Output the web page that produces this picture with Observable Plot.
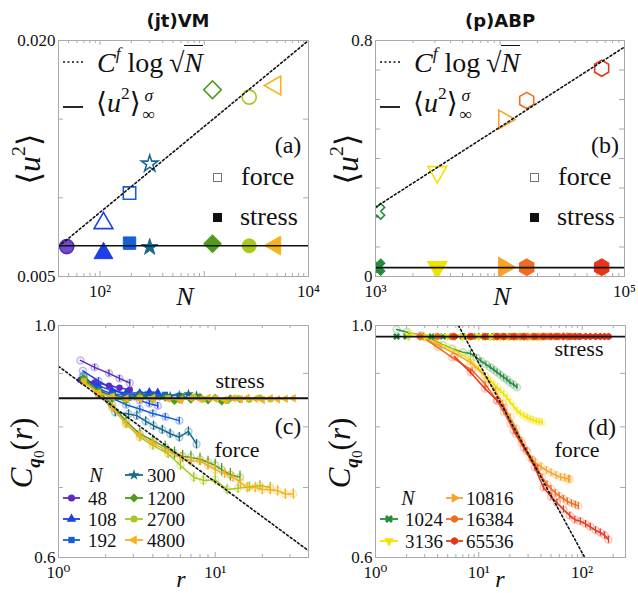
<!DOCTYPE html>
<html><head><meta charset="utf-8">
<script src="https://cdn.jsdelivr.net/npm/d3@7"></script>
<script src="https://cdn.jsdelivr.net/npm/@observablehq/plot@0.6"></script>
<style>
body{margin:0;background:#fff;}
#fig{position:relative;width:638px;height:593px;overflow:hidden;font-family:"Liberation Serif","DejaVu Serif",serif;color:#111;}
.abs{position:absolute;white-space:nowrap;line-height:1;}
#fig svg text{font-family:"Liberation Serif","DejaVu Serif",serif;}
</style></head><body><div id="fig"></div>
<script>
// ---------------- DATA ----------------
// panel (a): (jt)VM
const aN      = [48, 108, 192, 300, 1200, 2700, 4800];
const aForce  = [0.0069, 0.00839, 0.0103, 0.01216, 0.01687, 0.0164, 0.01714];
const aStress = [0.0069, 0.00648, 0.00712, 0.00686, 0.00708, 0.00695, 0.00697];
const aColors = ["#5a2dbf", "#1f3fe6", "#175fd6", "#17698f", "#4f9a1f", "#a9c81e", "#f7b21a"];
const aSymbols = ["circle", "triangle", "square", "star", "square", "circle", "triangle"];
const aRotate  = [0, 0, 0, 0, 45, 0, -90];
const aSize    = [7, 7, 7, 5.2, 7, 7, 7];
const aSigmaLine = [0.00695];
const aFitN = [40, 10000];
const aFitU = [0.0069, 0.0200];
const aXTicks = [100, 10000], aXTickLabels = ["10²", "10⁴"];
const aYTicks = [0.005, 0.02], aYTickLabels = ["0.005", "0.020"];

// panel (b): (p)ABP
const bN      = [1024, 3136, 10816, 16384, 65536];
const bForce  = [0.221, 0.354, 0.532, 0.597, 0.706];
const bStress = [0.0316, 0.0316, 0.0316, 0.0316, 0.0316];
const bColors = ["#238b3b", "#f2e200", "#f8a327", "#ee6d1f", "#e8351a"];
const bSymbols = ["cross", "triangle", "triangle", "hexagon", "hexagon"];
const bRotate  = [45, 180, 90, 0, 0];
const bSigmaLine = [0.03];
const bFitN = [1000, 100000];
const bFitU = [0.235, 0.778];
const bXTicks = [1000, 100000], bXTickLabels = ["10³", "10⁵"];
const bYTicks = [0, 0.8], bYTickLabels = ["0", "0.8"];

// panel (c): (jt)VM correlations, r / force C / stress C per N
const c48r  = [1.38, 1.7, 2.1, 2.45, 2.85];
const c48f  = [0.926, 0.912, 0.900, 0.890, 0.881];
const c48s  = [0.887, 0.882, 0.876, 0.872, 0.868];
const c108r = [1.43, 1.8, 2.2, 2.7, 3.3, 3.8, 4.3];
const c108f = [0.905, 0.885, 0.870, 0.857, 0.848, 0.842, 0.838];
const c108s = [0.888, 0.876, 0.866, 0.862, 0.862, 0.864, 0.863];
const c192r = [1.43, 1.8, 2.2, 2.7, 3.3, 4.0, 4.8, 5.9];
const c192f = [0.895, 0.870, 0.852, 0.840, 0.832, 0.824, 0.818, 0.811];
const c192s = [0.888, 0.870, 0.860, 0.858, 0.860, 0.858, 0.859, 0.857];
const c300r = [1.45, 1.8, 2.3, 2.8, 3.16, 3.6, 4.04, 4.6, 5.16, 5.9, 6.75, 7.6];
const c300f = [0.895, 0.862, 0.826, 0.823, 0.820, 0.810, 0.802, 0.795, 0.788, 0.782, 0.792, 0.770];
const c300s = [0.885, 0.865, 0.856, 0.854, 0.855, 0.857, 0.856, 0.855, 0.856, 0.858, 0.860, 0.857];
const c1200r = [1.45, 1.8, 2.2, 2.7, 3.3, 4.0, 4.8, 5.5, 6.2, 7.0, 8.0, 9.0, 10, 11, 12.5, 14.4];
const c1200f = [0.892, 0.865, 0.840, 0.810, 0.788, 0.776, 0.765, 0.755, 0.750, 0.748, 0.745, 0.740, 0.735, 0.728, 0.720, 0.716];
const c1200s = [0.890, 0.865, 0.852, 0.848, 0.856, 0.850, 0.853, 0.847, 0.854, 0.849, 0.855, 0.848, 0.853, 0.846, 0.852, 0.850];
const c2700r = [1.45, 1.8, 2.2, 2.7, 3.3, 4.0, 5.0, 6.0, 7.3, 8.4, 10, 11.9, 14, 16.5, 19.3, 22.5];
const c2700f = [0.888, 0.860, 0.835, 0.805, 0.782, 0.768, 0.754, 0.735, 0.716, 0.711, 0.712, 0.697, 0.699, 0.701, 0.703, 0.700];
const c2700s = [0.885, 0.862, 0.855, 0.850, 0.853, 0.849, 0.852, 0.848, 0.855, 0.850, 0.853, 0.847, 0.852, 0.849, 0.853, 0.850];
const c4800r = [1.45, 1.8, 2.2, 2.7, 3.3, 4.0, 5.0, 6.0, 7.0, 8.0, 9.0, 10, 11.5, 13, 14.5, 16, 18, 20, 22.5, 25, 28, 31.5];
const c4800f = [0.885, 0.860, 0.835, 0.805, 0.785, 0.772, 0.758, 0.748, 0.742, 0.742, 0.735, 0.728, 0.722, 0.716, 0.708, 0.700, 0.700, 0.697, 0.697, 0.695, 0.690, 0.690];
const c4800s = [0.882, 0.862, 0.855, 0.852, 0.850, 0.853, 0.851, 0.849, 0.852, 0.850, 0.853, 0.851, 0.849, 0.852, 0.850, 0.853, 0.851, 0.849, 0.852, 0.850, 0.851, 0.852];
const cErr = [0.006, 0.006, 0.006, 0.008, 0.010, 0.008, 0.008];
const cSigmaLine = [0.852];
const cFitR = [1, 39.4], cFitC = [0.914, 0.609];
const cXTicks = [1, 10], cXTickLabels = ["10⁰", "10¹"];
const cYTicks = [0.6, 1.0], cYTickLabels = ["0.6", "1.0"];

// panel (d): (p)ABP correlations
const d1024r = [1.6, 2.0, 2.8, 3.5, 4.5, 5.5, 7, 8.3, 9.5, 10.5, 11.7, 12.9, 14, 15, 16.2, 17.4, 18.7, 20, 21.7, 23.4];
const d1024f = [0.991, 0.986, 0.978, 0.970, 0.958, 0.950, 0.943, 0.940, 0.932, 0.925, 0.918, 0.912, 0.907, 0.902, 0.897, 0.892, 0.888, 0.882, 0.878, 0.873];
const d3136r = [2.1, 3, 4, 5, 5.9, 7, 8.3, 10, 11.5, 12.9, 14, 15, 16.2, 17.4, 18.7, 20, 21.7, 23.4, 25.2, 27.2, 29.2, 31.3, 33.6, 36, 38.4, 40.8];
const d3136f = [0.985, 0.975, 0.962, 0.953, 0.946, 0.937, 0.927, 0.910, 0.895, 0.886, 0.879, 0.872, 0.866, 0.860, 0.853, 0.845, 0.837, 0.829, 0.824, 0.820, 0.817, 0.814, 0.812, 0.810, 0.809, 0.808];
const d10816r = [2.8, 4, 5.9, 8.3, 11.5, 14.5, 17, 20.2, 23, 26, 29, 31.3, 35, 40, 45, 50, 56, 62, 68, 74, 76];
const d10816f = [0.975, 0.958, 0.940, 0.922, 0.895, 0.866, 0.842, 0.817, 0.797, 0.776, 0.758, 0.747, 0.740, 0.733, 0.727, 0.723, 0.719, 0.716, 0.715, 0.713, 0.713];
const d16384r = [2.7, 4, 5.5, 8.6, 11.5, 15, 17.5, 20.2, 23, 26, 29.2, 33, 37, 41, 45.7, 50, 55, 60, 66, 72, 79, 86, 92];
const d16384f = [0.978, 0.953, 0.932, 0.906, 0.879, 0.848, 0.826, 0.805, 0.787, 0.772, 0.759, 0.744, 0.730, 0.716, 0.705, 0.698, 0.692, 0.687, 0.683, 0.679, 0.676, 0.674, 0.672];
const d65536r = [5.8, 8.3, 11.5, 15, 17.4, 21.8, 27.2, 34.8, 42.3, 50, 57, 66, 76, 85, 96, 108, 120, 135, 150, 165, 180];
const d65536f = [0.934, 0.902, 0.870, 0.848, 0.835, 0.793, 0.764, 0.732, 0.700, 0.686, 0.677, 0.667, 0.658, 0.652, 0.650, 0.646, 0.642, 0.637, 0.634, 0.630, 0.624];
const dStress = [0.976, 0.976, 0.976, 0.976, 0.976];
const dErr = [0.005, 0.005, 0.006, 0.005, 0.005];
const dSigmaLine = [0.976];
const dFitR = [6.35, 106], dFitC = [1.0, 0.6];
const dXTicks = [1, 10, 100], dXTickLabels = ["10⁰", "10¹", "10²"];
const dYTicks = [0.6, 1.0], dYTickLabels = ["0.6", "1.0"];

// ---------------- HELPERS ----------------
const fig = document.getElementById("fig");
const SERIF = '"Liberation Serif","DejaVu Serif",serif';
const GREY = "#aaaaaa";
const rows = (xs, ys) => xs.map((x, i) => ({x, y: ys[i]}));

function tickMarks(xMaj, xMin, yMaj, yMin, fw, fh) {
  const out = [];
  for (const [t, len] of [[xMaj, 5], [xMin, 3]]) {
    if (!t.length) continue;
    out.push(Plot.ruleX(t, {x: d => d, insetTop: fh - len, stroke: GREY}));
    out.push(Plot.ruleX(t, {x: d => d, insetBottom: fh - len, stroke: GREY}));
  }
  for (const [t, len] of [[yMaj, 5], [yMin, 3]]) {
    if (!t.length) continue;
    out.push(Plot.ruleY(t, {y: d => d, insetRight: fw - len, stroke: GREY}));
    out.push(Plot.ruleY(t, {y: d => d, insetLeft: fw - len, stroke: GREY}));
  }
  return out;
}
function tickLabels(xv, xl, yv, yl) {
  const mx = new Map(xv.map((v, i) => [v, xl[i]]));
  const my = new Map(yv.map((v, i) => [v, yl[i]]));
  return [
    Plot.axisX({ticks: xv, tickFormat: d => mx.get(d), tickSize: 0, tickPadding: 8, label: null, fontSize: 17, fontFamily: SERIF}),
    Plot.axisY({ticks: yv, tickFormat: d => my.get(d), tickSize: 0, tickPadding: 3, label: null, fontSize: 17, fontFamily: SERIF})
  ];
}
function panel({left, top, width, height, mL, mR, mT, mB, x, y, marks}) {
  const p = Plot.plot({
    width, height, marginLeft: mL, marginRight: mR, marginTop: mT, marginBottom: mB,
    x, y,
    style: {fontFamily: SERIF, fontSize: "17px", background: "transparent", overflow: "visible", color: "#111"},
    marks: [...marks, Plot.frame({stroke: GREY})]
  });
  p.style.position = "absolute";
  p.style.left = left + "px";
  p.style.top = top + "px";
  fig.append(p);
}
function txt(html, x, y, {size = 22, anchor = "middle", rotate = 0, weight = "normal", family = SERIF} = {}) {
  const d = document.createElement("div");
  d.className = "abs";
  d.innerHTML = html;
  d.style.left = x + "px"; d.style.top = y + "px";
  d.style.fontSize = size + "px"; d.style.fontFamily = family; d.style.fontWeight = weight;
  const tx = anchor === "middle" ? "-50%" : anchor === "start" ? "0" : "-100%";
  d.style.transform = `translate(${tx},-50%)` + (rotate ? ` rotate(${rotate}deg)` : "");
  fig.append(d);
}
function svgAt(x, y, w, h, inner) {
  const ns = "http://www.w3.org/2000/svg";
  const s = document.createElementNS(ns, "svg");
  s.setAttribute("width", w); s.setAttribute("height", h);
  s.style.position = "absolute"; s.style.left = x + "px"; s.style.top = y + "px"; s.style.overflow = "visible";
  s.innerHTML = inner;
  fig.append(s);
}
const symHex = {draw(ctx, size) {
  const r = Math.sqrt(size * 2 / (3 * Math.sqrt(3)));
  for (let i = 0; i < 6; i++) {
    const a = Math.PI / 3 * i - Math.PI / 2;
    i ? ctx.lineTo(r * Math.cos(a), r * Math.sin(a)) : ctx.moveTo(r * Math.cos(a), r * Math.sin(a));
  }
  ctx.closePath();
}};
const SYM = {circle: d3.symbolCircle, triangle: d3.symbolTriangle, square: d3.symbolSquare, star: d3.symbolStar, cross: d3.symbolCross, hexagon: symHex};
function legendEntry(x0, x1, y, color, sym, rot, textX, label) {
  const w = x1 - x0, path = d3.symbol(SYM[sym], 40)();
  svgAt(x0, y - 6, w, 12,
    `<line x1="0" x2="${w}" y1="6" y2="6" stroke="${color}" stroke-width="1.8"/>` +
    `<path d="${path}" transform="translate(${w / 2},6) rotate(${rot})" fill="${color}"/>`);
  txt(label, textX, y, {size: 19, anchor: "start"});
}

// ---------------- PANEL (a) ----------------
{
  const fw = 250, fh = 236;
  const marks = [
    ...tickMarks([100, 1000, 10000], [50, 60, 70, 80, 90, 200, 300, 400, 500, 600, 700, 800, 900, 2000, 3000, 4000, 5000, 6000, 7000, 8000, 9000],
                 [0.005, 0.01, 0.015, 0.02], [], fw, fh),
    ...tickLabels(aXTicks, aXTickLabels, aYTicks, aYTickLabels)
  ];
  aN.forEach((n, i) => {
    marks.push(Plot.dot([{x: n, y: aForce[i]}], {x: "x", y: "y", symbol: aSymbols[i], rotate: aRotate[i], r: aSize[i], stroke: aColors[i], strokeWidth: 1.6, fill: "none"}));
    marks.push(Plot.dot([{x: n, y: aStress[i]}], {x: "x", y: "y", symbol: aSymbols[i], rotate: aRotate[i], r: aSize[i], fill: aColors[i], stroke: aColors[i], strokeWidth: 1, fillOpacity: i === 0 ? 0.85 : 1}));
  });
  marks.push(Plot.ruleY(aSigmaLine, {y: d => d, stroke: "#111", strokeWidth: 1.6}));
  marks.push(Plot.line(rows(aFitN, aFitU), {x: "x", y: "y", stroke: "#111", strokeWidth: 1.6, strokeDasharray: "2,2.5", clip: true}));
  panel({left: 0, top: 0, width: 320, height: 300, mL: 58, mR: 12, mT: 40, mB: 24,
    x: {type: "log", domain: [40, 10000], axis: null}, y: {domain: [0.005, 0.02], axis: null}, marks});
}
// ---------------- PANEL (b) ----------------
{
  const fw = 249, fh = 236;
  const xmin = [];
  for (const dec of [1000, 10000]) for (let k = 2; k <= 9; k++) xmin.push(k * dec);
  const marks = [
    ...tickMarks([1000, 10000, 100000], xmin, [0, 0.1, 0.2, 0.3, 0.4, 0.5, 0.6, 0.7, 0.8], [], fw, fh),
    ...tickLabels(bXTicks, bXTickLabels, bYTicks, bYTickLabels)
  ];
  bN.forEach((n, i) => {
    marks.push(Plot.dot([{x: n, y: bForce[i]}], {x: "x", y: "y", symbol: bSymbols[i], rotate: bRotate[i], r: 7, stroke: bColors[i], strokeWidth: 1.6, fill: "none", clip: true}));
    marks.push(Plot.dot([{x: n, y: bStress[i]}], {x: "x", y: "y", symbol: bSymbols[i], rotate: bRotate[i], r: 7, fill: bColors[i], stroke: bColors[i], clip: true}));
  });
  marks.push(Plot.ruleY(bSigmaLine, {y: d => d, stroke: "#111", strokeWidth: 1.6}));
  marks.push(Plot.line(rows(bFitN, bFitU), {x: "x", y: "y", stroke: "#111", strokeWidth: 1.6, strokeDasharray: "2,2.5", clip: true}));
  panel({left: 318, top: 0, width: 320, height: 300, mL: 57, mR: 14, mT: 40, mB: 24,
    x: {type: "log", domain: [1000, 100000], axis: null}, y: {domain: [0, 0.8], axis: null}, marks});
}
// ---------------- PANEL (c) ----------------
const cSeries = [
  [c48r, c48f, c48s], [c108r, c108f, c108s], [c192r, c192f, c192s], [c300r, c300f, c300s],
  [c1200r, c1200f, c1200s], [c2700r, c2700f, c2700s], [c4800r, c4800f, c4800s]
];
{
  const fw = 250, fh = 232;
  const marks = [
    ...tickMarks([1, 10], [2, 3, 4, 5, 6, 7, 8, 9, 20, 30], [0.6, 0.7, 0.8, 0.9, 1.0], [], fw, fh),
    ...tickLabels(cXTicks, cXTickLabels, cYTicks, cYTickLabels)
  ];
  cSeries.forEach(([r, f, s], i) => {
    const col = aColors[i], F = rows(r, f), e = cErr[i];
    marks.push(Plot.line(F, {x: "x", y: "y", stroke: col, strokeWidth: 1.5, clip: true}));
    marks.push(Plot.ruleX(F.slice(1), {x: "x", y1: d => d.y - e, y2: d => d.y + e, stroke: col, strokeWidth: 1.3, clip: true}));
    marks.push(Plot.dot(F, {x: "x", y: "y", r: 3.5, stroke: col, strokeOpacity: 0.3, fill: col, fillOpacity: 0.08, clip: true}));
  });
  cSeries.forEach(([r, f, s], i) => {
    const col = aColors[i], S = rows(r, s);
    marks.push(Plot.line(S, {x: "x", y: "y", stroke: col, strokeWidth: 1.5, clip: true}));
    marks.push(Plot.dot(S, {x: "x", y: "y", symbol: aSymbols[i], rotate: aRotate[i], r: 3.2, fill: col, clip: true}));
  });
  marks.push(Plot.ruleY(cSigmaLine, {y: d => d, stroke: "#111", strokeWidth: 1.8}));
  marks.push(Plot.line(rows(cFitR, cFitC), {x: "x", y: "y", stroke: "#111", strokeWidth: 1.6, strokeDasharray: "2,2.5", clip: true}));
  panel({left: 0, top: 300, width: 320, height: 293, mL: 58, mR: 12, mT: 25, mB: 36,
    x: {type: "log", domain: [1, 39.4], axis: null}, y: {type: "log", domain: [0.6, 1.0], axis: null}, marks});
}
// ---------------- PANEL (d) ----------------
const dSeries = [[d1024r, d1024f], [d3136r, d3136f], [d10816r, d10816f], [d16384r, d16384f], [d65536r, d65536f]];
{
  const fw = 250, fh = 232;
  const xmin = [];
  for (const dec of [1, 10, 100]) for (let k = 2; k <= 9; k++) if (k * dec < 263) xmin.push(k * dec);
  const marks = [
    ...tickMarks([1, 10, 100], xmin, [0.6, 0.7, 0.8, 0.9, 1.0], [], fw, fh),
    ...tickLabels(dXTicks, dXTickLabels, dYTicks, dYTickLabels)
  ];
  dSeries.forEach(([r, f], i) => {
    const col = bColors[i], F = rows(r, f), e = dErr[i];
    marks.push(Plot.dot(F, {x: "x", y: "y", r: 3.5, stroke: col, strokeOpacity: 0.25, fill: col, fillOpacity: 0.06, clip: true}));
    marks.push(Plot.line(F, {x: "x", y: "y", stroke: col, strokeWidth: 1.5, clip: true}));
    marks.push(Plot.ruleX(F.filter(d => d.x > 8), {x: "x", y1: d => d.y - e, y2: d => d.y + e, stroke: col, strokeWidth: 1.2, clip: true}));
  });
  dSeries.forEach(([r, f], i) => {
    const col = bColors[i], S = r.map(x => ({x, y: dStress[i]}));
    marks.push(Plot.dot(S, {x: "x", y: "y", symbol: bSymbols[i], rotate: bRotate[i], r: 3.2, fill: col, clip: true}));
  });
  marks.push(Plot.ruleY(dSigmaLine, {y: d => d, stroke: "#111", strokeWidth: 1.8}));
  marks.push(Plot.line(rows(dFitR, dFitC), {x: "x", y: "y", stroke: "#111", strokeWidth: 1.6, strokeDasharray: "2,2.5", clip: true}));
  panel({left: 318, top: 300, width: 320, height: 293, mL: 57, mR: 13, mT: 25, mB: 36,
    x: {type: "log", domain: [1, 263], axis: null}, y: {type: "log", domain: [0.6, 1.0], axis: null}, marks});
}

// ---------------- TEXT / LEGENDS ----------------
const SUP = 'style="font-size:62%;vertical-align:0.75em"';
const fitLabel = `<i>C</i><span ${SUP}><i>f</i></span>&nbsp;log&thinsp;√<span style="border-top:1.4px solid #111;padding-top:1px"><i>N</i></span>`;
const sigLabel = `⟨<i>u</i><span ${SUP}>2</span>⟩<span style="display:inline-block;vertical-align:middle;font-size:62%;line-height:1.05;text-align:center;margin-left:2px"><i>σ</i><br>∞</span>`;
const u2Label = `⟨<i>u</i><span ${SUP}>2</span>⟩`;
const cqLabel = `<i>C</i><span style="font-size:62%;vertical-align:-0.4em"><b><i>q</i></b><span style="font-size:80%;vertical-align:-0.2em">0</span></span>(<i>r</i>)`;

txt("(jt)VM", 178, 21, {size: 18, weight: "bold", family: '"DejaVu Sans",sans-serif'});
txt("(p)ABP", 500, 21, {size: 18, weight: "bold", family: '"DejaVu Sans",sans-serif'});

for (const [ox, lab] of [[0, "(a)"], [317, "(b)"]]) {
  svgAt(63 + ox, 59, 24, 6, `<line x1="0" x2="22" y1="3" y2="3" stroke="#111" stroke-width="1.6" stroke-dasharray="2,2.5"/>`);
  txt(fitLabel, 97 + ox, 61, {size: 28, anchor: "start"});
  svgAt(63 + ox, 104, 24, 6, `<line x1="0" x2="20" y1="3" y2="3" stroke="#111" stroke-width="1.8"/>`);
  txt(sigLabel, 96 + ox, 104, {size: 28, anchor: "start"});
  txt(lab, 288 + ox, 145, {size: 24});
  svgAt(213 + ox, 173, 9, 9, `<rect x="0.5" y="0.5" width="8" height="8" fill="none" stroke="#777" stroke-width="1"/>`);
  txt("force", 241 + ox, 177, {size: 26, anchor: "start"});
  svgAt(213 + ox, 213, 9, 9, `<rect x="0" y="0" width="9" height="9" fill="#111"/>`);
  txt("stress", 240 + ox, 217, {size: 26, anchor: "start"});
  txt(u2Label, 27 + ox + (ox ? 1 : 0), 159, {size: 32, rotate: -90});
  txt("<i>N</i>", 185 + ox, 297, {size: 26});
}
// (c)
txt(cqLabel, 26, 453, {size: 31, rotate: -90});
txt("<i>r</i>", 181, 579, {size: 24});
txt("stress", 240, 381, {size: 22});
txt("force", 237, 450, {size: 22});
txt("(c)", 288, 426, {size: 24});
txt("<i>N</i>", 96, 475, {size: 20});
const cLegendX = [[63, 80, 88], [63, 80, 88], [63, 80, 88], [125, 143, 147], [125, 143, 147], [125, 143, 147], [125, 143, 147]];
const cLegendY = [498, 519, 540, 475, 498, 519, 540];
aN.forEach((n, i) => legendEntry(cLegendX[i][0], cLegendX[i][1], cLegendY[i], aColors[i], aSymbols[i], aRotate[i], cLegendX[i][2], String(n)));
// (d)
txt(cqLabel, 344, 453, {size: 31, rotate: -90});
txt("<i>r</i>", 500, 579, {size: 24});
txt("stress", 579, 349, {size: 22});
txt("force", 577, 450, {size: 22});
txt("(d)", 602, 427, {size: 24});
txt("<i>N</i>", 408, 498, {size: 20});
const dLegendX = [[380, 398, 405], [380, 398, 405], [446, 463, 466], [446, 463, 466], [446, 463, 466]];
const dLegendY = [519, 541, 498, 519, 541];
bN.forEach((n, i) => legendEntry(dLegendX[i][0], dLegendX[i][1], dLegendY[i], bColors[i], bSymbols[i], bRotate[i], dLegendX[i][2], String(n)));
</script>
</body></html>
